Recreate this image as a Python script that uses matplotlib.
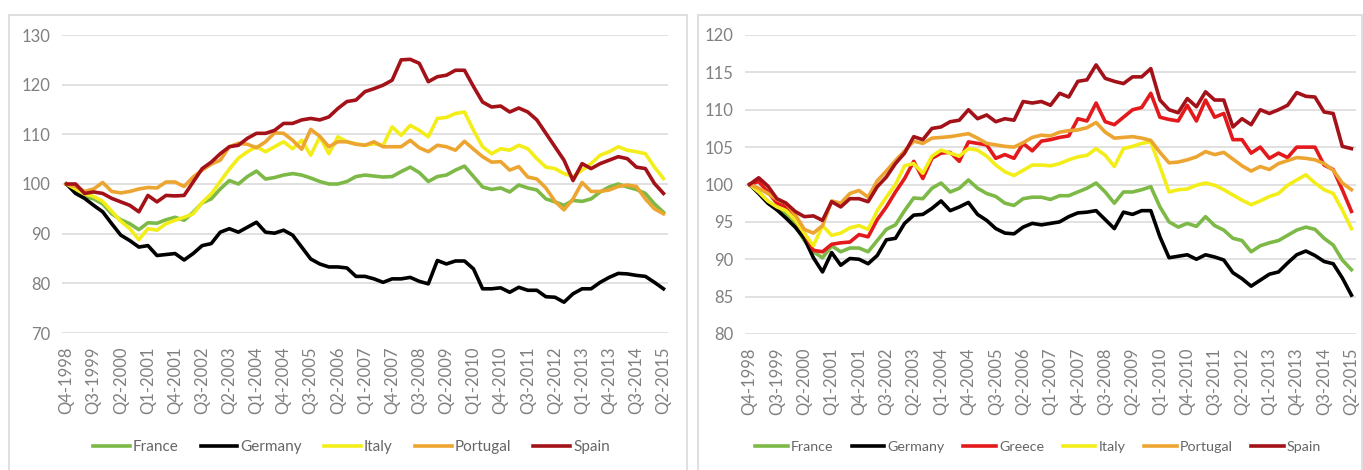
import matplotlib
matplotlib.use("Agg")
import matplotlib.pyplot as plt
from matplotlib.patches import Rectangle

# ---------------- data ----------------
quarters = []
for year in range(1998, 2016):
    for q in range(1, 5):
        if (year == 1998 and q < 4) or (year == 2015 and q > 2):
            continue
        quarters.append(f"Q{q}-{year}")
tick_positions = list(range(0, len(quarters), 3))
tick_labels = [quarters[i] for i in tick_positions]

# Left panel
france_l = [100, 98.5, 97.5, 97, 96, 94, 92.8, 92, 90.8, 92.2,
            92.1, 92.8, 93.3, 92.7, 94.3, 96.2, 97, 99, 100.7, 100,
            101.5, 102.6, 101, 101.3, 101.8, 102.1, 101.8, 101.2, 100.5, 100,
            100, 100.5, 101.5, 101.8, 101.6, 101.4, 101.5, 102.5, 103.4, 102.3,
            100.5, 101.5, 101.8, 102.8, 103.6, 101.5, 99.4, 98.9, 99.2, 98.4,
            99.8, 99.2, 98.8, 97, 96.4, 95.7, 96.7, 96.5, 97, 98.4,
            99.4, 100, 99.4, 98.9, 98.1, 96, 94.3]
germany_l = [100, 98.1, 97.1, 95.7, 94.4, 92, 89.7, 88.6, 87.3, 87.6,
             85.6, 85.8, 86, 84.7, 86, 87.6, 88, 90.3, 91, 90.3,
             91.3, 92.3, 90.3, 90.1, 90.7, 89.7, 87.3, 84.9, 83.9, 83.3,
             83.3, 83.1, 81.4, 81.4, 80.9, 80.2, 80.9, 80.9, 81.2, 80.4,
             79.9, 84.6, 83.9, 84.5, 84.5, 82.9, 78.9, 78.9, 79.1, 78.2,
             79.2, 78.6, 78.6, 77.3, 77.2, 76.2, 77.9, 78.9, 78.9, 80.2,
             81.2, 82, 81.9, 81.6, 81.4, 80.2, 78.9]
italy_l = [100, 99, 98, 97.5, 96.5, 94.5, 92.5, 91, 88.8, 91,
           90.7, 92, 92.7, 93.3, 94, 96.3, 98, 100.5, 103, 105.2,
           106.5, 107.5, 106.5, 107.5, 108.5, 107.1, 108.8, 105.8, 109.5, 106.1,
           109.5, 108.5, 108.1, 107.8, 108.1, 107.8, 111.5, 109.8, 111.8, 110.8,
           109.5, 113.2, 113.4, 114.2, 114.5, 110.8, 107.5, 106.1, 107.1, 106.8,
           107.8, 107.1, 105.1, 103.4, 103.1, 102.1, 101.5, 102.8, 104.1, 105.8,
           106.5, 107.5, 106.8, 106.5, 106.1, 103.4, 101.1]
portugal_l = [100, 99.5, 98.5, 99, 100.3, 98.5, 98.2, 98.5, 99, 99.3,
              99.2, 100.4, 100.4, 99.5, 101.4, 102.8, 104, 104.8, 107.5, 108.2,
              108, 107.3, 108.5, 110.3, 110.2, 108.8, 107, 111, 109.6, 107.5,
              108.5, 108.5, 108, 107.8, 108.5, 107.5, 107.5, 107.5, 108.8, 107.3,
              106.5, 107.8, 107.5, 106.8, 108.6, 107, 105.5, 104.4, 104.5, 102.8,
              103.5, 101.4, 101, 99.2, 96.5, 94.8, 97, 100.3, 98.5, 98.5,
              98.8, 99.5, 99.8, 99.5, 97, 95, 94]
spain_l = [100, 100, 98.1, 98.4, 98.1, 97.1, 96.4, 95.7, 94.4, 97.7,
           96.4, 97.7, 97.6, 97.7, 100.4, 103.1, 104.4, 106.1, 107.5, 107.8,
           109.2, 110.2, 110.2, 110.8, 112.2, 112.2, 112.9, 113.2, 112.9, 113.5,
           115.2, 116.6, 116.9, 118.6, 119.2, 119.9, 120.9, 125, 125.1, 124.3,
           120.6, 121.6, 121.9, 122.9, 122.9, 119.6, 116.5, 115.5, 115.7, 114.5,
           115.3, 114.5, 112.9, 110.2, 107.5, 104.8, 100.7, 104.1, 103.1, 104.1,
           104.8, 105.5, 105.1, 103.4, 103.1, 100.1, 98.1]

# Right panel
france_r = [100, 99, 97.7, 97, 96, 94.5, 92.5, 91, 90.2, 91.8,
            91, 91.5, 91.5, 91, 92.5, 94, 94.6, 96.5, 98.2, 98.1,
            99.5, 100.2, 99, 99.5, 100.6, 99.5, 98.8, 98.4, 97.5, 97.2,
            98.1, 98.3, 98.3, 98, 98.5, 98.5, 99, 99.5, 100.2, 99,
            97.5, 99, 99, 99.3, 99.7, 97, 95, 94.3, 94.8, 94.4,
            95.7, 94.5, 93.9, 92.8, 92.5, 91, 91.8, 92.2, 92.5, 93.2,
            93.9, 94.3, 94, 92.8, 91.9, 89.9, 88.6]
germany_r = [100, 98.8, 97.5, 96.6, 95.5, 94.3, 92.8, 90.2, 88.3, 90.9,
             89.2, 90.1, 90, 89.4, 90.5, 92.6, 92.8, 94.8, 95.9, 96,
             96.8, 97.8, 96.5, 97, 97.6, 96, 95.2, 94.1, 93.5, 93.4,
             94.3, 94.8, 94.6, 94.8, 95, 95.7, 96.2, 96.3, 96.5, 95.3,
             94.1, 96.3, 96, 96.5, 96.5, 93, 90.2, 90.4, 90.6, 90,
             90.6, 90.3, 89.9, 88.2, 87.4, 86.4, 87.2, 88, 88.3, 89.5,
             90.6, 91.1, 90.5, 89.7, 89.4, 87.5, 85.2]
greece_r = [100, 100.4, 99, 97.5, 97, 95.3, 93.5, 91.2, 91, 92,
            92.2, 92.3, 93.3, 93, 95.3, 97, 99, 100.8, 103.1, 100.8,
            103.5, 104.2, 104.3, 103.1, 105.7, 105.5, 105.3, 103.5, 104, 103.5,
            105.5, 104.5, 105.8, 106, 106.3, 106.5, 108.8, 108.5, 110.9, 108.4,
            108, 109, 110, 110.3, 112.2, 109, 108.7, 108.5, 110.6, 108.5,
            111.3, 109, 109.5, 106, 106, 104.2, 105, 103.5, 104.2, 103.6,
            105, 105, 105, 102.6, 102, 99.3, 96.4]
italy_r = [100, 99, 97.8, 97, 96.5, 95.3, 93.5, 91.8, 94.5, 93.2,
           93.5, 94.2, 94.5, 94, 96.5, 98.3, 100, 102.5, 102.8, 101.5,
           103.8, 104.6, 104.2, 103.8, 104.8, 104.6, 103.8, 102.6, 101.7, 101.2,
           101.9, 102.6, 102.6, 102.5, 102.8, 103.3, 103.7, 103.9, 104.8, 103.9,
           102.4, 104.8, 105.1, 105.5, 105.7, 102.4, 99, 99.3, 99.4, 99.9,
           100.2, 99.9, 99.3, 98.6, 97.9, 97.3, 97.8, 98.4, 98.8, 99.9,
           100.6, 101.3, 100.2, 99.3, 98.8, 96.6, 94.1]
portugal_r = [100, 99.5, 98.8, 98, 97.5, 96, 94, 93.5, 94.5, 97.8,
              97.5, 98.8, 99.2, 98.3, 100.5, 101.8, 103.2, 104.5, 105.8, 105.5,
              106.2, 106.3, 106.4, 106.6, 106.8, 106.2, 105.5, 105.3, 105.1, 105,
              105.6, 106.3, 106.6, 106.5, 107, 107.2, 107.3, 107.6, 108.3, 107,
              106.2, 106.3, 106.4, 106.2, 105.9, 104.3, 102.9, 103, 103.3, 103.7,
              104.4, 104, 104.3, 103.4, 102.5, 101.8, 102.4, 102, 102.8, 103.2,
              103.6, 103.5, 103.3, 102.8, 101.9, 100.2, 99.3]
spain_r = [100, 100.9, 99.8, 98.1, 97.5, 96.4, 95.7, 95.8, 95.2, 97.7,
           97, 98.1, 98.1, 97.7, 99.7, 101, 102.8, 104.2, 106.4, 106,
           107.5, 107.7, 108.4, 108.6, 110, 108.8, 109.3, 108.4, 108.8, 108.6,
           111.1, 110.9, 111.1, 110.6, 112.2, 111.7, 113.8, 114, 116, 114.2,
           113.8, 113.5, 114.4, 114.4, 115.5, 111.3, 110, 109.6, 111.5, 110.4,
           112.4, 111.3, 111.3, 107.7, 108.8, 108, 110, 109.5, 110, 110.6,
           112.3, 111.8, 111.7, 109.7, 109.5, 105.1, 104.8]

left_series = [("France", france_l), ("Germany", germany_l), ("Italy", italy_l),
               ("Portugal", portugal_l), ("Spain", spain_l)]
right_series = [("France", france_r), ("Germany", germany_r), ("Greece", greece_r),
                ("Italy", italy_r), ("Portugal", portugal_r), ("Spain", spain_r)]

colors = {"France": "#7DB946", "Germany": "#000000", "Greece": "#E3191C",
          "Italy": "#F3EE1A", "Portugal": "#EDA531", "Spain": "#A31218"}

# ---------------- figure ----------------
plt.rcParams['font.family'] = ['Lato', 'DejaVu Sans']
W, H = 1363, 470
fig = plt.figure(figsize=(W / 100, H / 100), dpi=100)
fig.patch.set_facecolor("white")

# chart-area borders
for (x0, x1) in [(9, 687), (698, 1362)]:
    fig.patches.append(Rectangle((x0 / W, -0.05), (x1 - x0) / W, 1 - 15 / H + 0.05,
                                 transform=fig.transFigure, fill=False,
                                 edgecolor="#d9d9d9", lw=1.2))

TICK_C = "#808080"
GRID_C = "#d9d9d9"


def make_panel(rect, series, ylim, yticks, legend_x, handlelen, colspace, legfs):
    ax = fig.add_axes(rect)
    x = list(range(len(quarters)))
    handles = []
    for name, vals in series:
        ln, = ax.plot(x, vals, color=colors[name], lw=2.6, solid_joinstyle="round",
                      label=name)
        handles.append(ln)
    ax.set_xlim(-0.5, len(quarters) - 0.5)
    ax.set_ylim(*ylim)
    ax.set_yticks(yticks)
    ax.set_yticklabels([str(v) for v in yticks])
    ax.set_xticks(tick_positions)
    ax.set_xticklabels(tick_labels, rotation=90)
    ax.yaxis.grid(True, color=GRID_C, lw=1.1)
    ax.set_axisbelow(True)
    for s in ax.spines.values():
        s.set_visible(False)
    ax.tick_params(axis="y", length=0, pad=8.5, labelsize=12, labelcolor=TICK_C)
    ax.tick_params(axis="x", length=0, pad=10, labelsize=12, labelcolor=TICK_C)
    fig.legend(handles, [n for n, _ in series], loc="center",
               bbox_to_anchor=(legend_x, 1 - 447 / H), ncol=len(series),
               frameon=False, handlelength=handlelen, handletextpad=0.2,
               columnspacing=colspace, fontsize=legfs, labelcolor="#666666")
    return ax


make_panel([62 / W, 1 - 333 / H, (668 - 62) / W, (333 - 35) / H], left_series,
           (70, 130), list(range(70, 131, 10)), 351.5 / W, 2.4, 1.45, 11)
make_panel([745 / W, 1 - 334 / H, (1356 - 745) / W, (334 - 35) / H], right_series,
           (80, 120), list(range(80, 121, 5)), 1038 / W, 2.3, 1.3, 10.3)

fig.savefig("out.png", dpi=100)
